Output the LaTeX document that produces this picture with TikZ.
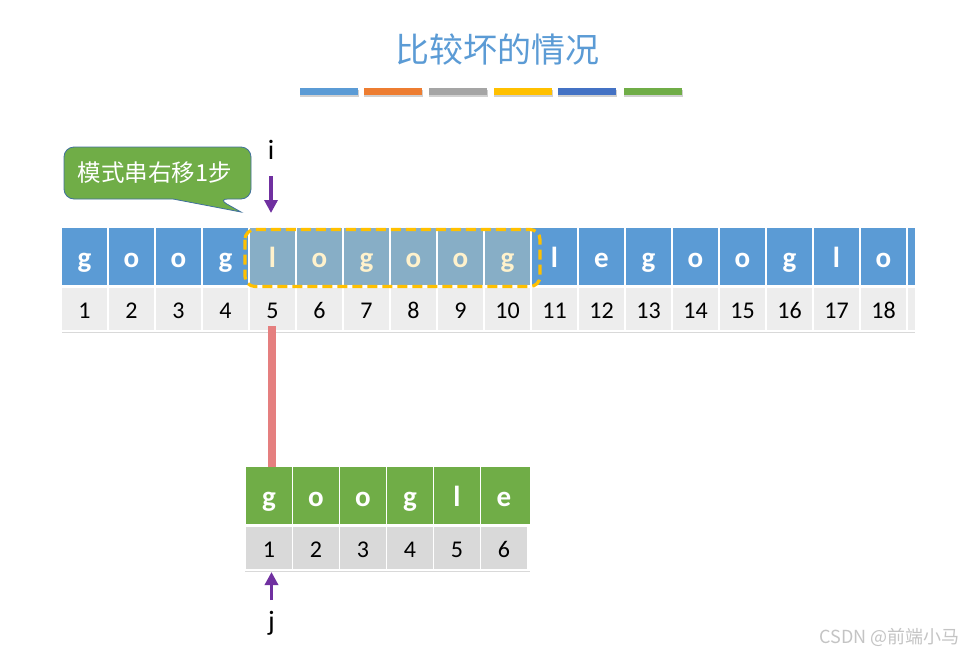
\documentclass[tikz,border=0pt]{standalone}
\usepackage{fontspec}
\setmainfont{Carlito}
\newfontfamily\cjk{Noto Sans CJK SC}
\usetikzlibrary{arrows.meta}
\definecolor{cblue}{HTML}{5B9BD5}
\definecolor{corange}{HTML}{ED7D31}
\definecolor{cgray}{HTML}{A5A5A5}
\definecolor{cyellow}{HTML}{FFC000}
\definecolor{cdblue}{HTML}{4472C4}
\definecolor{cgreen}{HTML}{70AD47}
\definecolor{chl}{HTML}{87AEC6}
\definecolor{ccream}{HTML}{FFF2CC}
\definecolor{cnum}{HTML}{EDEDED}
\definecolor{cnum2}{HTML}{D9D9D9}
\definecolor{cpurple}{HTML}{7030A0}
\definecolor{cred}{HTML}{E57F7F}
\definecolor{coutline}{HTML}{41719C}
\definecolor{cwm}{HTML}{C4C4C4}
\begin{document}
\begin{tikzpicture}[x=1pt,y=-1pt,
  tcell/.style={minimum width=45pt,minimum height=57pt,inner sep=0pt,
    font=\bfseries\fontsize{29}{29}\selectfont,text height=21pt,text depth=0pt},
  ncell/.style={minimum width=45pt,minimum height=42pt,inner sep=0pt,fill=cnum,
    font=\fontsize{24}{24}\selectfont,text height=18pt,text depth=0pt},
  pcell/.style={minimum width=46pt,minimum height=57pt,inner sep=0pt,fill=cgreen,text=white,
    font=\bfseries\fontsize{29}{29}\selectfont,text height=21pt,text depth=0pt},
  pncell/.style={minimum width=46pt,minimum height=42pt,inner sep=0pt,fill=cnum2,
    font=\fontsize{24}{24}\selectfont,text height=18pt,text depth=0pt},
  bar/.style={minimum width=58pt,minimum height=7pt,inner sep=0pt},
  parrow/.style={draw=cpurple,line width=3.7pt,-{Triangle[width=13pt,length=13pt]}},
  lbl/.style={font=\fontsize{28}{28}\selectfont,inner sep=0pt}
]
\useasboundingbox[fill=white] (0,0) rectangle (967,654);
% title
\node[font=\cjk\fontsize{34}{34}\selectfont,text=cblue] (title) at (497.5,50) {比较坏的情况};
% bars
\foreach \c/\x [count=\k] in {cblue/329,corange/393,cgray/458,cyellow/523,cdblue/587,cgreen/653}{
  \fill[black!18] (\x-29,90) rectangle (\x+30,96.5);
  \node[bar,fill=\c] (bar\k) at (\x,91.5) {};
}
% text row
\foreach \ch [count=\i] in {g,o,o,g,l,o,g,o,o,g,l,e,g,o,o,g,l,o}{
  \pgfmathsetmacro\cx{84.5+(\i-1)*47}
  \ifnum\i<5 \colorlet{cf}{cblue}\colorlet{ct}{white}\else
    \ifnum\i>10 \colorlet{cf}{cblue}\colorlet{ct}{white}\else
      \colorlet{cf}{chl}\colorlet{ct}{ccream}\fi\fi
  \node[tcell,fill=cf,text=ct] (t\i) at (\cx,256.5) {\ch};
  \node[ncell] (n\i) at (\cx,309) {\i};
}
\fill[cblue] (908,228) rectangle (915,285);
\fill[cnum] (908,288) rectangle (915,330);
\draw[cnum2,line width=1pt] (62,332) -- (915,332);
% dashed highlight
\draw[cyellow,line width=3.2pt,dash pattern=on 10pt off 5pt,rounded corners=10pt]
  (245,229.5) rectangle (540,286.5);
% pattern row
\foreach \ch [count=\k] in {g,o,o,g,l,e}{
  \pgfmathsetmacro\cx{269+(\k-1)*47}
  \node[pcell] (p\k) at (\cx,495.5) {\ch};
  \node[pncell] (q\k) at (\cx,548) {\k};
}
\fill[cgreen] (527,467) rectangle (530,524);
\draw[cnum2,line width=1pt] (245,571) -- (530,571);
% red connector
\coordinate (ra) at (272,326);
\coordinate (rb) at (272,467);
\draw[cred,line width=8pt] (ra) -- (rb);
% i arrow
\node[lbl] (ilab) at (271,150) {i};
\coordinate (ia) at (271,176);
\coordinate (ib) at (271,213);
\draw[parrow] (ia) -- (ib);
% j arrow
\node[lbl] (jlab) at (271.5,623) {j};
\coordinate (ja) at (271.5,600);
\coordinate (jb) at (271.5,572);
\draw[parrow] (ja) -- (jb);
% callout
\draw[coutline,line width=0.8pt,fill=cgreen,rounded corners=10pt]
  (64,173) -- (64,147) -- (251,147) -- (251,199) -- (218,199)
  [sharp corners] -- (241,212) -- (173,199)
  [rounded corners=10pt] -- (64,199) -- cycle;
\node[font=\cjk\fontsize{23.5}{23.5}\selectfont,text=white] (callout) at (155,173) {模式串右移1步};
% watermark
\node[anchor=east,font=\cjk\fontsize{18}{18}\selectfont,text=cwm,inner sep=0pt] (wm) at (960,637) {CSDN @前端小马};
\end{tikzpicture}
\end{document}
